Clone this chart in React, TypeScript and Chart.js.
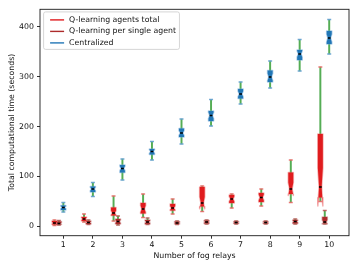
import { useEffect, useRef } from 'react';
import { Chart, registerables } from 'chart.js';

Chart.register(...registerables);

// ---- data -------------------------------------------------------------
const categories = [1, 2, 3, 4, 5, 6, 7, 8, 9, 10];
const xTicks = [1, 2, 3, 4, 5, 6, 7, 8, 9, 10];
const yTicks = [0, 100, 200, 300, 400];

// Q-learning agents total
const totalLow = [2, 9, 11, 18, 25, 30, 37, 41, 48, 50];
const totalQ1 = [4, 11, 22, 26, 32, 40, 47, 49, 65, 58];
const totalMed = [7, 15, 27, 35, 37, 47, 55, 58, 75, 79];
const totalQ3 = [11, 19, 38, 47, 45, 79, 63, 67, 108, 185];
const totalHigh = [13, 25, 61, 65, 55, 81, 65, 75, 133, 319];

// Q-learning per single agent
const singleLow = [3, 4, 3, 4, 4, 5, 5, 5, 5, 5];
const singleQ1 = [4, 5, 5, 5, 5, 6, 6, 6, 6, 6];
const singleMed = [6, 8, 10, 9, 7, 9, 8, 8, 10, 9];
const singleQ3 = [10, 11, 15, 13, 10, 12, 10, 10, 13, 19];
const singleHigh = [12, 13, 21, 17, 11, 13, 11, 11, 15, 32];

// Centralized
const centralLow = [29, 60, 93, 133, 165, 201, 245, 277, 311, 345];
const centralQ1 = [33, 69, 108, 144, 179, 211, 256, 289, 333, 365];
const centralMed = [38, 75, 116, 150, 187, 222, 265, 299, 345, 377];
const centralQ3 = [42, 80, 123, 155, 196, 231, 275, 312, 353, 391];
const centralHigh = [48, 88, 135, 170, 215, 254, 289, 331, 374, 414];

const seriesLabels = ['Q-learning agents total', 'Q-learning per single agent', 'Centralized'];

// ---- styles -----------------------------------------------------------
const seriesColors = ['#e01c1e', '#ad2b2b', '#2277b6'];
const haloColors = ['rgba(235,90,90,0.45)', 'rgba(180,80,80,0.45)', 'rgba(110,165,215,0.55)'];
const capColors = ['rgba(235,100,100,0.85)', 'rgba(185,85,85,0.85)', 'rgba(100,160,210,0.9)'];
const whiskerColor = '#55ad55';
const groupOffsets = [-0.3, -0.15, 0];
const FONT = '"DejaVu Sans", "Liberation Sans", sans-serif';
const FS = 7.8;

const series = [
  { low: totalLow, q1: totalQ1, med: totalMed, q3: totalQ3, high: totalHigh },
  { low: singleLow, q1: singleQ1, med: singleMed, q3: singleQ3, high: singleHigh },
  { low: centralLow, q1: centralQ1, med: centralMed, q3: centralQ3, high: centralHigh },
];

const notchPlugin = {
  id: 'notchedBoxes',
  afterDatasetDraw(chart: any, args: any) {
    const ds = chart.data.datasets[args.index];
    if (!ds.boxStats) return;
    const ys = chart.scales.y;
    const ctx = chart.ctx;
    const st = ds.boxStats;
    ctx.save();
    args.meta.data.forEach((el: any, i: number) => {
      const { x, width } = el.getProps(['x', 'width'], true);
      const h = width / 2;
      const iqr = st.q3[i] - st.q1[i];
      const nLo = st.med[i] - 0.3 * iqr;
      const nHi = st.med[i] + 0.3 * iqr;
      const pts: [number, number][] = [
        [x - h, st.q1[i]],
        [x + h, st.q1[i]],
        [x + h, nLo],
        [x + h * 0.5, st.med[i]],
        [x + h, nHi],
        [x + h, st.q3[i]],
        [x - h, st.q3[i]],
        [x - h, nHi],
        [x - h * 0.5, st.med[i]],
        [x - h, nLo],
      ];
      ctx.beginPath();
      pts.forEach(([px, v], k) => {
        const py = ys.getPixelForValue(v);
        if (k === 0) ctx.moveTo(px, py);
        else ctx.lineTo(px, py);
      });
      ctx.closePath();
      ctx.lineJoin = 'round';
      ctx.strokeStyle = ds.haloColor;
      ctx.lineWidth = 1.6;
      ctx.stroke();
      ctx.fillStyle = ds.boxColor;
      ctx.fill();
    });
    ctx.restore();
  },
};

const framePlugin = {
  id: 'frame',
  afterDraw(chart: any) {
    const { ctx, chartArea: a } = chart;
    ctx.save();
    ctx.strokeStyle = '#1a1a1a';
    ctx.lineWidth = 0.9;
    ctx.strokeRect(a.left, a.top, a.right - a.left, a.bottom - a.top);
    ctx.restore();
  },
};

const legendPlugin = {
  id: 'insideLegend',
  afterDraw(chart: any) {
    const { ctx, chartArea: a } = chart;
    const entries = chart.data.datasets.filter((d: any) => d.legendEntry);
    ctx.save();
    ctx.font = `${FS}px ${FONT}`;
    const maxW = Math.max(...entries.map((e: any) => ctx.measureText(e.label).width));
    const left = a.left + 3.6;
    const top = a.top + 2.6;
    const w = 25.5 + maxW + 3.4;
    const rowH = 11.5;
    const hgt = 8 + rowH * (entries.length - 1) + 6.5;
    ctx.beginPath();
    ctx.roundRect(left, top, w, hgt, 2);
    ctx.fillStyle = 'rgba(255,255,255,0.85)';
    ctx.fill();
    ctx.strokeStyle = '#cccccc';
    ctx.lineWidth = 0.8;
    ctx.stroke();
    entries.forEach((e: any, k: number) => {
      const cy = top + 8 + rowH * k;
      ctx.beginPath();
      ctx.moveTo(left + 6.5, cy);
      ctx.lineTo(left + 20.5, cy);
      ctx.strokeStyle = e.boxColor;
      ctx.lineWidth = 1.4;
      ctx.stroke();
      ctx.fillStyle = '#111';
      ctx.textBaseline = 'middle';
      ctx.textAlign = 'left';
      ctx.fillText(e.label, left + 25.5, cy);
    });
    ctx.restore();
  },
};

export default function App() {
  const ref = useRef<HTMLCanvasElement | null>(null);

  useEffect(() => {
    if (!ref.current) return;
    const datasets: any[] = [];
    series.forEach((s, k) => {
      const off = groupOffsets[k];
      datasets.push({
        type: 'bar',
        label: seriesLabels[k] + ' whiskers',
        data: categories.map((c, i) => ({ x: c + off, y: [s.low[i], s.high[i]] })),
        backgroundColor: whiskerColor,
        barThickness: 1.3,
        grouped: false,
        order: 10,
      });
      datasets.push({
        type: 'bar',
        label: seriesLabels[k],
        legendEntry: true,
        data: categories.map((c, i) => ({ x: c + off, y: [s.q1[i], s.q3[i]] })),
        backgroundColor: 'rgba(0,0,0,0)',
        borderWidth: 0,
        barThickness: 5,
        grouped: false,
        order: 8,
        boxStats: s,
        boxColor: seriesColors[k],
        haloColor: haloColors[k],
      });
      datasets.push({
        type: 'scatter',
        label: seriesLabels[k] + ' caps',
        data: [
          ...categories.map((c, i) => ({ x: c + off, y: s.low[i] })),
          ...categories.map((c, i) => ({ x: c + off, y: s.high[i] })),
        ],
        pointStyle: 'line',
        radius: 2,
        borderWidth: 1.6,
        borderColor: capColors[k],
        order: 6,
      });
      datasets.push({
        type: 'scatter',
        label: seriesLabels[k] + ' median',
        data: categories.map((c, i) => ({ x: c + off, y: s.med[i] })),
        pointStyle: 'line',
        radius: 1.4,
        borderWidth: 1.5,
        borderColor: '#000',
        order: 2,
      });
    });

    const chart = new Chart(ref.current, {
      type: 'bar',
      data: { datasets },
      plugins: [notchPlugin, framePlugin, legendPlugin],
      options: {
        animation: false,
        responsive: false,
        events: [],
        layout: { padding: { left: 0, right: 11, top: 9.3, bottom: 0 } },
        plugins: { legend: { display: false }, tooltip: { enabled: false } },
        scales: {
          x: {
            type: 'linear',
            min: 0.21,
            max: 10.67,
            offset: false,
            afterFit: (sc: any) => { sc.height = 33.3; },
            afterBuildTicks: (sc: any) => { sc.ticks = xTicks.map((v) => ({ value: v })); },
            grid: { display: true, drawOnChartArea: false, drawTicks: true, tickLength: 3, tickWidth: 0.9, tickColor: '#1a1a1a', offset: false },
            border: { display: false },
            ticks: { color: '#111', font: { family: FONT, size: FS }, padding: 1.5, maxRotation: 0, autoSkip: false },
            title: { display: true, text: 'Number of fog relays', color: '#111', font: { family: FONT, size: FS }, padding: { top: 0, bottom: 8.5 } },
          },
          y: {
            type: 'linear',
            min: -18.5,
            max: 434.5,
            afterFit: (sc: any) => { sc.width = 40; },
            afterBuildTicks: (sc: any) => { sc.ticks = yTicks.map((v) => ({ value: v })); },
            grid: { display: true, drawOnChartArea: false, drawTicks: true, tickLength: 3, tickWidth: 0.9, tickColor: '#1a1a1a' },
            border: { display: false },
            ticks: { color: '#111', font: { family: FONT, size: FS }, padding: 3 },
            title: { display: true, text: 'Total computational time (seconds)', color: '#111', font: { family: FONT, size: FS }, padding: { top: 7, bottom: 0 } },
          },
        },
      } as any,
    });
    return () => chart.destroy();
  }, []);

  return (
    <div style={{ position: 'fixed', left: 0, top: 0, width: 360, height: 269, background: '#fff' }}>
      <canvas ref={ref} width={360} height={269} style={{ display: 'block' }} />
    </div>
  );
}
